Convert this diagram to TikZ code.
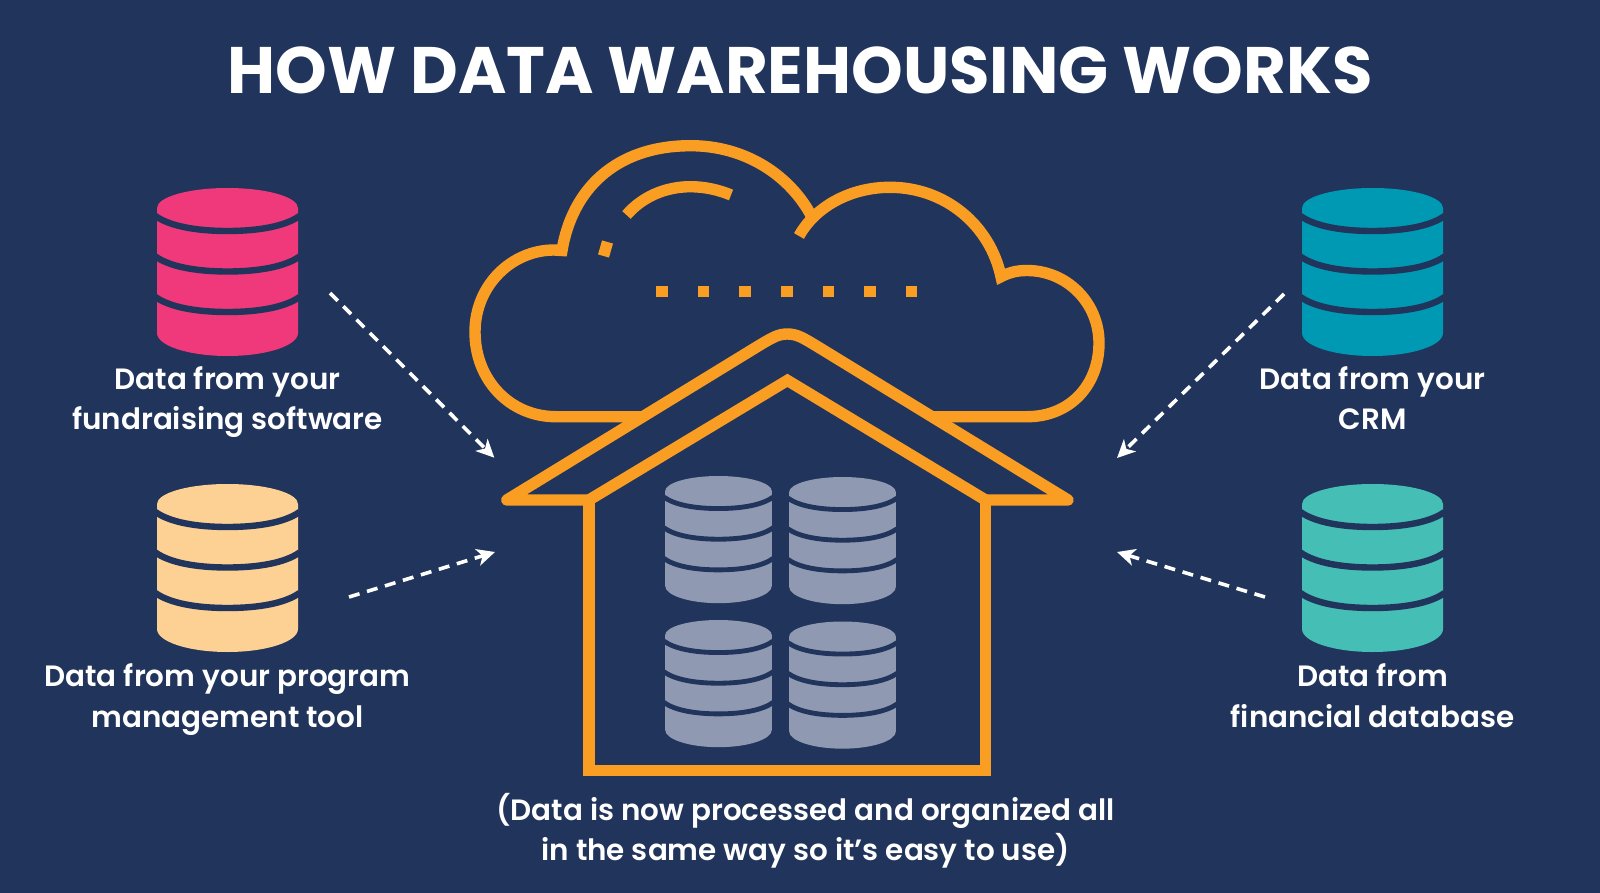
\documentclass[tikz,border=0pt]{standalone}
\usepackage{fontspec}
\usetikzlibrary{arrows.meta}
\setmainfont{Poppins}[UprightFont=* SemiBold,BoldFont=* Bold]
\definecolor{bgnavy}{HTML}{21345C}
\definecolor{roofor}{HTML}{FA9D23}
\definecolor{dbpink}{HTML}{F0397A}
\definecolor{dbpeach}{HTML}{FDD093}
\definecolor{dbblue}{HTML}{0099B3}
\definecolor{dbteal}{HTML}{45BFB5}
\definecolor{dbgray}{HTML}{8F9AB2}
\tikzset{
  outline/.style={draw=roofor,line width=5.7pt,line join=miter},
  flow/.style={draw=white,line width=1.8pt,dash pattern=on 5.5pt off 3.9pt,
    -{Stealth[length=9pt,width=8.5pt,inset=2.5pt]}},
  caption/.style={text=white,align=center,inner sep=0pt,text height=11pt,text depth=3.5pt,
    font=\fontsize{14.7}{20.2}\selectfont},
}
% Database stack: name, centre x, top y, scale, fill colour
\newcommand{\dbstack}[5]{%
  \begin{scope}[shift={(#2,#3)},scale=#4]
    \coordinate (#1) at (0,84);
    \fill[#5] (-70.5,20) .. controls (-70.5,9) and (-38.9,0) .. (0,0)
      .. controls (38.9,0) and (70.5,9) .. (70.5,20) -- (70.5,145)
      .. controls (70.5,157.7) and (38.9,168) .. (0,168)
      .. controls (-38.9,168) and (-70.5,157.7) .. (-70.5,145) -- cycle;
    \foreach \dy in {0,40.5,81}
      \draw[bgnavy,line width=3.2pt*#4] (-72,28+\dy)
        .. controls (-58,38+\dy) and (-32,43+\dy) .. (0,43+\dy)
        .. controls (32,43+\dy) and (58,38+\dy) .. (72,28+\dy);
  \end{scope}}
\begin{document}
\begin{tikzpicture}[x=0.5pt,y=-0.5pt]
\useasboundingbox[fill=bgnavy] (0,0) rectangle (1600,893);

\node[text=white,inner sep=0pt,font=\bfseries\fontsize{32.85}{40}\selectfont] (title) at (800,70.5) {HOW DATA WAREHOUSING WORKS};

% Source databases
\dbstack{dbA}{227.5}{188}{1}{dbpink}
\dbstack{dbB}{227.5}{484}{1}{dbpeach}
\dbstack{dbC}{1372.5}{188}{1}{dbblue}
\dbstack{dbD}{1372.5}{484}{1}{dbteal}

% Databases inside the warehouse
\dbstack{whA}{718.5}{476}{0.757}{dbgray}
\dbstack{whB}{842.5}{477}{0.757}{dbgray}
\dbstack{whC}{718.5}{620}{0.757}{dbgray}
\dbstack{whD}{842.5}{621.5}{0.757}{dbgray}

% Cloud outline
\draw[outline] (642,416.7) -- (556,416.7)
  .. controls (510,416.7) and (475,380) .. (475,332)
  .. controls (475,285) and (512,250) .. (554,250) -- (562,250.5)
  .. controls (572,190) and (615,145.7) .. (690.7,145.7)
  .. controls (745,145.7) and (790,175) .. (812,217);
\draw[outline] (799,236) .. controls (815,207) and (850,187.3) .. (890,187.3)
  .. controls (945,187.3) and (990,225) .. (1001,276.7)
  .. controls (1010,272) and (1018,270.5) .. (1027,270.5)
  .. controls (1067,270.5) and (1099,303) .. (1099,343)
  .. controls (1099,385) and (1070,416.7) .. (1027,416.7) -- (933,416.7);
\draw[outline] (626.5,215) .. controls (642,197) and (665,186.7) .. (690.7,186.7)
  .. controls (705,186.7) and (719,190) .. (731,195);
\draw[outline] (607.5,242) -- (603.5,256);
\foreach \px in {662,703.6,745.2,786.8,828.4,870,911.6}
  \fill[roofor] (\px-5.8,286) rectangle (\px+5.8,296.7);

% Warehouse roof and walls
\draw[outline,line join=round] (589,500) -- (506.8,500) -- (755,348)
  .. controls (772,337.6) and (778,334) .. (787.4,334)
  .. controls (796.8,334) and (802.8,337.6) .. (819.8,348)
  -- (1068,500) -- (985.5,500);
\draw[outline] (589,500) -- (787.4,380.4) -- (985.5,500);
\draw[outline] (589,497) -- (589,770.5) -- (985.5,770.5) -- (985.5,497);

% Captions
\node[caption] (capA) at (227.5,422) {Data from your\\fundraising software};
\node[caption] (capB) at (227.5,719.5) {Data from your program\\management tool};
\node[caption] (capC) at (1372.5,422) {Data from your\\CRM};
\node[caption] (capD) at (1372.5,719.5) {Data from\\financial database};
\node[caption] (capE) at (805.6,853) {(Data is now processed and organized all\\in the same way so it’s easy to use)};

% Flows into the warehouse
\coordinate (startA) at (330,293);
\coordinate (startB) at (349,597);
\coordinate (startC) at (1284,294);
\coordinate (startD) at (1265,597);
\coordinate (endA) at (494.3,457.7);
\coordinate (endB) at (495,552);
\coordinate (endC) at (1117,458);
\coordinate (endD) at (1117,552);
\draw[flow] (startA) -- (endA);
\draw[flow] (startB) -- (endB);
\draw[flow] (startC) -- (endC);
\draw[flow] (startD) -- (endD);
\end{tikzpicture}
\end{document}
